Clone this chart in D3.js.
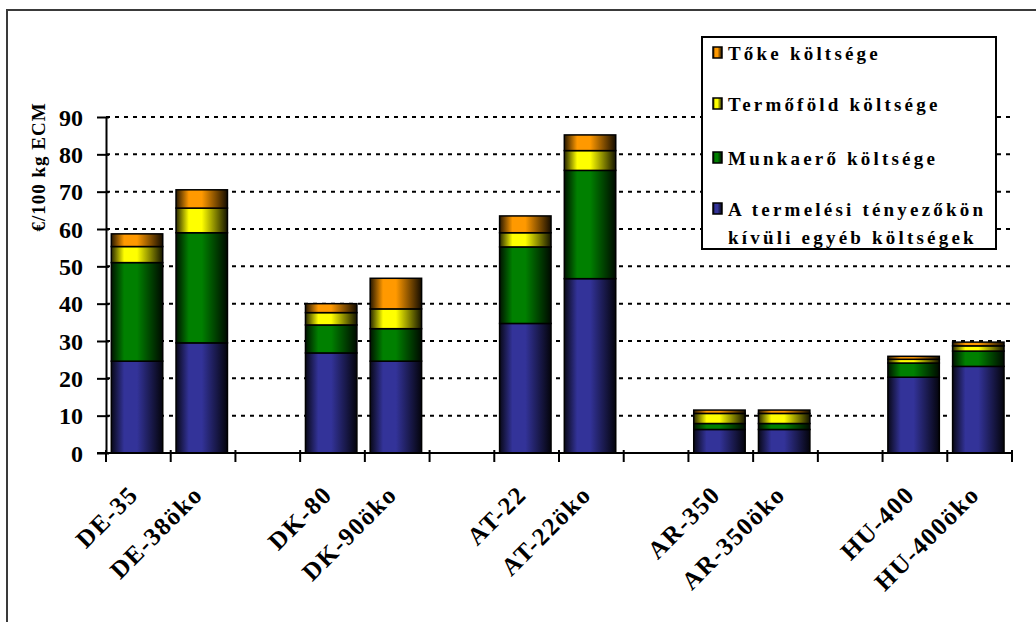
<!DOCTYPE html>
<html>
<head>
<meta charset="utf-8">
<script src="https://cdn.jsdelivr.net/npm/d3@7"></script>
<style>
  html, body { margin: 0; padding: 0; background: #fff; }
  svg { display: block; }
  text { font-family: "Liberation Serif", "Times New Roman", serif; font-weight: bold; fill: #000; }
</style>
</head>
<body>
<svg id="chart" width="1036" height="622"></svg>
<script>
// Categories (empty entries are spacers between country groups)
const categories = ["DE-35", "DE-38öko", "", "DK-80", "DK-90öko", "", "AT-22", "AT-22öko", "", "AR-350", "AR-350öko", "", "HU-400", "HU-400öko"];

// Cost components, €/100 kg ECM
const otherCosts   = [24.6, 29.5, null, 26.8, 24.6, null, 34.7, 46.7, null, 6.3, 6.3, null, 20.3, 23.2];
const labourCosts  = [26.4, 29.5, null, 7.5, 8.7, null, 20.5, 29.0, null, 1.6, 1.6, null, 3.8, 4.1];
const landCosts    = [4.3, 6.6, null, 3.3, 5.3, null, 3.8, 5.3, null, 2.7, 2.7, null, 1.0, 1.4];
const capitalCosts = [3.4, 4.9, null, 2.4, 8.2, null, 4.5, 4.2, null, 0.9, 0.9, null, 0.8, 1.0];

const seriesNames = ["A termelési tényezőkön kívüli egyéb költségek", "Munkaerő költsége", "Termőföld költsége", "Tőke költsége"];
const seriesColors = ["#333399", "#008000", "#FFFF00", "#FF9900"];
const yTicks = [0, 10, 20, 30, 40, 50, 60, 70, 80, 90];

const seriesValues = [otherCosts, labourCosts, landCosts, capitalCosts];

const svg = d3.select("#chart");

// outer chart-area frame
svg.append("rect")
  .attr("x", 7).attr("y", 10).attr("width", 1060).attr("height", 700)
  .attr("fill", "none").attr("stroke", "#3a3a3a").attr("stroke-width", 2);

const plot = { left: 106, right: 1012, top: 117, bottom: 453 };

const x = d3.scaleBand().domain(d3.range(categories.length)).range([plot.left, plot.right]).padding(0);
const y = d3.scaleLinear().domain([0, 90]).range([plot.bottom, plot.top]);

// cylinder-like horizontal shading for each series colour
const defs = svg.append("defs");
seriesColors.forEach((c, i) => {
  const g = defs.append("linearGradient").attr("id", "grad" + i)
    .attr("x1", "0%").attr("x2", "100%").attr("y1", "0%").attr("y2", "0%");
  g.append("stop").attr("offset", "0%").attr("stop-color", d3.interpolateRgb(c, "#000")(0.85));
  g.append("stop").attr("offset", "25%").attr("stop-color", c);
  g.append("stop").attr("offset", "50%").attr("stop-color", c);
  g.append("stop").attr("offset", "100%").attr("stop-color", d3.interpolateRgb(c, "#000")(0.92));
});

// horizontal dotted gridlines
svg.append("g").selectAll("line")
  .data(yTicks.filter(t => t > 0))
  .join("line")
  .attr("x1", plot.left).attr("x2", plot.right)
  .attr("y1", d => y(d)).attr("y2", d => y(d))
  .attr("stroke", "#000").attr("stroke-width", 2)
  .attr("stroke-dasharray", "4,5");

// stacked data
const rows = categories.map((c, i) => {
  const r = { idx: i, name: c };
  seriesValues.forEach((s, k) => { r["s" + k] = s[i] || 0; });
  return r;
}).filter((r, i) => categories[i] !== "");

const stack = d3.stack().keys(["s0", "s1", "s2", "s3"]);
const stacked = stack(rows);

const barOffset = x.bandwidth() * 0.082;
const barWidth = x.bandwidth() * 0.795;

const barsG = svg.append("g");
stacked.forEach((layer, k) => {
  barsG.append("g").selectAll("rect")
    .data(layer)
    .join("rect")
    .attr("x", d => x(d.data.idx) + barOffset)
    .attr("width", barWidth)
    .attr("y", d => y(d[1]))
    .attr("height", d => y(d[0]) - y(d[1]))
    .attr("fill", "url(#grad" + k + ")")
    .attr("stroke", "#000").attr("stroke-width", 1.5);
});

// y axis
const yAxis = d3.axisLeft(y).tickValues(yTicks).tickSize(9).tickPadding(14).tickSizeOuter(0);
const yg = svg.append("g").attr("transform", `translate(${plot.left},0)`).call(yAxis);
yg.select(".domain").attr("stroke-width", 2);
yg.selectAll(".tick line").attr("stroke-width", 2).attr("x2", -9).attr("x1", 3);
yg.selectAll(".tick text").style("font-size", "24px").attr("dy", "0.34em");

// x axis baseline with ticks at category boundaries
const xg = svg.append("g");
xg.append("line")
  .attr("x1", plot.left - 9).attr("x2", plot.right)
  .attr("y1", plot.bottom).attr("y2", plot.bottom)
  .attr("stroke", "#000").attr("stroke-width", 2);
const bounds = d3.range(categories.length + 1).map(i => i < categories.length ? x(i) : plot.right);
xg.selectAll("line.tk").data(bounds).join("line").attr("class", "tk")
  .attr("x1", d => d).attr("x2", d => d)
  .attr("y1", plot.bottom - 3).attr("y2", plot.bottom + 9)
  .attr("stroke", "#000").attr("stroke-width", 2);

// rotated category labels
xg.selectAll("text").data(categories.map((c, i) => ({ c, i })).filter(d => d.c !== ""))
  .join("text")
  .attr("transform", d => `translate(${x(d.i) + x.bandwidth() / 2 - 5},${plot.bottom + 37}) rotate(-45)`)
  .attr("text-anchor", "end")
  .attr("dy", "0.35em")
  .style("font-size", "25px")
  .style("letter-spacing", "1.5px")
  .text(d => d.c);

// y axis title
svg.append("text")
  .attr("transform", `translate(45,${(100 + 234) / 2}) rotate(-90)`)
  .attr("text-anchor", "middle")
  .style("font-size", "19px")
  .style("letter-spacing", "1px")
  .text("€/100 kg ECM");

// legend
const legend = svg.append("g");
legend.append("rect")
  .attr("x", 702).attr("y", 37).attr("width", 294).attr("height", 212)
  .attr("fill", "#fff").attr("stroke", "#000").attr("stroke-width", 2);

const legendItems = [
  { k: 3, lines: ["Tőke költsége"], y: 53 },
  { k: 2, lines: ["Termőföld költsége"], y: 104 },
  { k: 1, lines: ["Munkaerő költsége"], y: 158 },
  { k: 0, lines: ["A termelési tényezőkön", "kívüli egyéb költségek"], y: 209 }
];
legendItems.forEach(item => {
  legend.append("rect")
    .attr("x", 713).attr("y", item.y - 6).attr("width", 9).attr("height", 11)
    .attr("fill", "url(#grad" + item.k + ")").attr("stroke", "#000").attr("stroke-width", 1.5);
  item.lines.forEach((ln, j) => {
    legend.append("text")
      .attr("x", 728).attr("y", item.y + j * 28)
      .attr("dy", "0.35em")
      .style("font-size", "19px")
      .style("letter-spacing", "3.2px")
      .text(ln);
  });
});
</script>
</body>
</html>
